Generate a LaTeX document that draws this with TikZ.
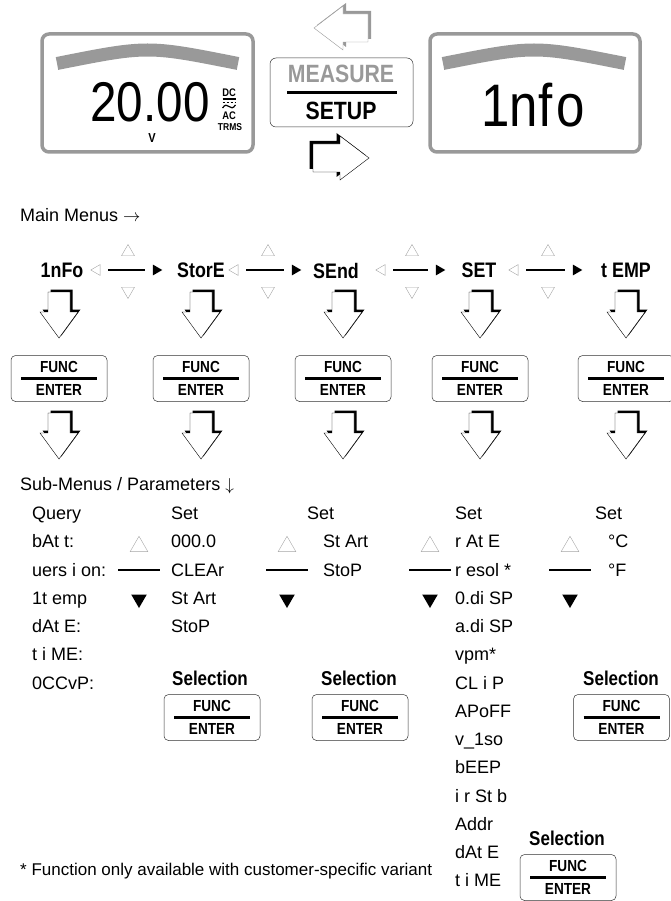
\documentclass[tikz,border=0pt]{standalone}
\usepackage{fontspec}
\setmainfont{Liberation Sans}
\newfontfamily\condfont{Liberation Sans}[FakeStretch=0.85]
\definecolor{lcdgray}{RGB}{153,153,153}
\definecolor{trigray}{RGB}{165,165,165}
\usetikzlibrary{
  arrows.meta,
  positioning,
  shapes.geometric,
  calc
}

\tikzset{
  display/.style={draw=lcdgray, line width=3.5pt, rounded corners=7pt, inner sep=0pt},
  band/.style={draw=lcdgray, line width=13pt},
  keybox/.style={rectangle, rounded corners=4.5pt, draw=black!80, line width=0.5pt,
    minimum width=96pt, minimum height=46pt, inner sep=0pt},
  keytext/.style={font=\condfont\bfseries\fontsize{16}{16}\selectfont, inner sep=0pt},
  keyrule/.style={line width=2.8pt},
  menulabel/.style={font=\condfont\bfseries\fontsize{21}{21}\selectfont, inner sep=0pt},
  headline/.style={font=\fontsize{18}{18}\selectfont, inner sep=0pt, anchor=base west},
  item/.style={font=\fontsize{18}{18}\selectfont, inner sep=0pt, anchor=base west},
  selectlabel/.style={font=\condfont\bfseries\fontsize{20}{20}\selectfont, inner sep=0pt},
  tri/.style={regular polygon, regular polygon sides=3, inner sep=0pt, line width=0.4pt},
  triup/.style={tri, draw=trigray, minimum size=15pt},
  tridown/.style={tri, draw=trigray, minimum size=15pt, shape border rotate=180},
  trileft/.style={tri, draw=trigray, minimum size=12.5pt, shape border rotate=90},
  triright/.style={tri, fill=black, minimum size=12.5pt, shape border rotate=270},
  subup/.style={tri, draw=trigray, minimum size=20.5pt},
  subdown/.style={tri, fill=black, minimum size=18pt, shape border rotate=180},
  menuline/.style={line width=2pt, shorten <=8pt, shorten >=8pt},
  subline/.style={line width=2.2pt},
  pics/downarrow/.style={code={
    \fill[black] (-8.5,-2.5) -- (13.5,-2.5) -- (13.5,17.5) -- (21.5,17.5) -- (2.5,43.5) -- (-16.5,17.5) -- (-8.5,17.5) -- cycle;
    \draw[fill=white, line width=0.4pt] (-11,0) -- (11,0) -- (11,20) -- (19,20) -- (0,46) -- (-19,20) -- (-11,20) -- cycle;
  }}
}

\newcommand{\funckey}[3]{%
  \node[keybox] (#1) at (#2,#3) {};
  \node[keytext] (#1f) at (#2,#3-11.5) {FUNC};
  \draw[keyrule] (#2-38,#3) -- (#2+38,#3);
  \node[keytext] (#1e) at (#2,#3+11.5) {ENTER};
}

\begin{document}
\begin{tikzpicture}[x=1pt, y=-1pt]
\useasboundingbox (0,0) rectangle (670,901);

% displays and key
\node[display, minimum width=211pt, minimum height=118pt] (disp1) at (147.5,93) {};
\draw[band] (57,63.5) .. controls (147.5,45.5) .. (238,63.5);
\node[font=\condfont\fontsize{56}{56}\selectfont, inner sep=0pt, anchor=base] (val) at (150,122) {20.00};
\node[font=\condfont\bfseries\fontsize{13}{13}\selectfont, inner sep=0pt] (unit) at (152,138) {V};
\node[font=\condfont\bfseries\fontsize{11}{11}\selectfont, inner sep=0pt] (dc) at (229,92.5) {DC};
\draw[line width=1.1pt] (222.5,99) -- (235.5,99);
\draw[line width=1.1pt, dash pattern=on 2.5pt off 1.5pt] (222.5,102.5) -- (235.5,102.5);
\draw[line width=1.2pt] (222.5,108) .. controls (225,104.5) and (227,104.5) .. (229,106.5) .. controls (231,108.5) and (233,108.5) .. (235.5,105);
\node[font=\condfont\bfseries\fontsize{11}{11}\selectfont, inner sep=0pt] (ac) at (229,116) {AC};
\node[font=\condfont\bfseries\fontsize{10}{10}\selectfont, inner sep=0pt] (trms) at (230,127.5) {TRMS};

\node[display, minimum width=210pt, minimum height=118pt] (disp2) at (535,93) {};
\draw[band] (443,63.5) .. controls (534,45.5) .. (625,63.5);
\node[font=\condfont\fontsize{60}{60}\selectfont, inner sep=0pt, anchor=base] (info) at (533,127) {1nf\kern4pt o};

\node[keybox, minimum width=143pt, minimum height=69pt, rounded corners=6pt] (mskey) at (341.5,92.5) {};
\node[font=\condfont\bfseries\fontsize{25}{25}\selectfont, text=lcdgray, inner sep=0pt] (measure) at (341,74) {MEASURE};
\draw[line width=3pt] (287,93) -- (397,93);
\node[font=\condfont\bfseries\fontsize{25}{25}\selectfont, inner sep=0pt] (setup) at (341,111) {SETUP};

\fill[lcdgray] (317,25) -- (346,3) -- (346,11) -- (371,11) -- (371,39) -- (346,39) -- (346,47) -- cycle;
\draw[draw=lcdgray, fill=white, line width=0.4pt] (314,28) -- (343,6) -- (343,14) -- (368,14) -- (368,42) -- (343,42) -- (343,50) -- cycle;
\fill[black] (309.5,141) -- (336.5,141) -- (336.5,133) -- (365.5,155) -- (336.5,177) -- (336.5,169) -- (309.5,169) -- cycle;
\draw[fill=white, line width=0.4pt] (313,144) -- (340,144) -- (340,136) -- (369,158) -- (340,180) -- (340,172) -- (313,172) -- cycle;

% main menus
\node[headline] (mainhd) at (20,222) {Main Menus $\rightarrow$};
\node[menulabel] (m1) at (62,270.5) {1nFo};
\node[menulabel] (m2) at (201,270.5) {StorE};
\node[menulabel] (m3) at (336,270.5) {SEnd};
\node[menulabel] (m4) at (479,270.5) {SET};
\node[menulabel] (m5) at (626,270.5) {t EMP};
\foreach \l/\c/\r [count=\i] in {97/128/156, 235/268/295, 382/412/439, 515/548/576} {
  \node[trileft] (sl\i) at (\l,270) {};
  \node[triup] (su\i) at (\c,252) {};
  \node[tridown] (sd\i) at (\c,291) {};
  \node[triright] (sr\i) at (\r,270) {};
  \draw[menuline] (sl\i) -- (sr\i);
}

\foreach \x [count=\i] in {59,201,343,480,626} {
  \pic at (\x,292) {downarrow};
  \funckey{fk\i}{\x}{378.5}
  \pic at (\x,413) {downarrow};
}

% sub menus
\node[headline] (subhd) at (20,490) {Sub-Menus / Parameters $\downarrow$};
\foreach \t [count=\i from 0] in {Query, bAt t:, uers i on:, 1t emp, dAt E:, t i ME:, 0CCvP:}
  \node[item] (qa\i) at (32,519.5+28.25*\i) {\t};
\foreach \t [count=\i from 0] in {Set, 000.0, CLEAr, St Art, StoP}
  \node[item] (st\i) at (171,519.5+28.25*\i) {\t};
\node[item] (sd0) at (307,519.5) {Set};
\node[item] (sd1) at (323,547.75) {St Art};
\node[item] (sd2) at (323,576) {StoP};
\foreach \t [count=\i from 0] in {Set, r At E, r esol *, 0.di SP, a.di SP, vpm*, CL i P, APoFF, v\_1so, bEEP, i r St b, Addr, dAt E, t i ME}
  \node[item] (se\i) at (455,519.5+28.25*\i) {\t};
\node[item] (tp0) at (595,519.5) {Set};
\node[item] (tp1) at (608,547.75) {°C};
\node[item] (tp2) at (608,576) {°F};

\foreach \x [count=\i] in {139,287,430,570} {
  \node[subup] (pu\i) at (\x,546.5) {};
  \node[subdown] (pd\i) at (\x,599) {};
  \coordinate (la\i) at (\x-21,570);
  \coordinate (lb\i) at (\x+21,570);
  \draw[subline] (la\i) -- (lb\i);
}

\node[selectlabel] (sel2) at (210,678) {Selection};
\funckey{sk2}{212}{717.5}
\node[selectlabel] (sel3) at (359,678) {Selection};
\funckey{sk3}{360}{717.5}
\node[selectlabel] (sel5) at (621,678) {Selection};
\funckey{sk5}{621.5}{717.5}
\node[selectlabel] (sel4) at (567,838) {Selection};
\funckey{sk4}{568}{877.5}

\node[font=\fontsize{17}{17}\selectfont, inner sep=0pt, anchor=base west] (note) at (20,875) {* Function only available with customer-specific variant};
\end{tikzpicture}
\end{document}
